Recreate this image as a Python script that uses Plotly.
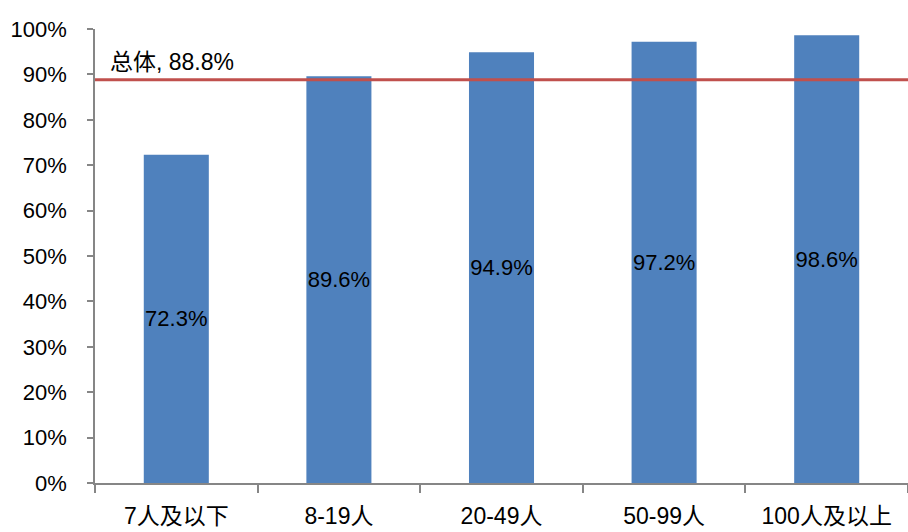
import plotly.graph_objects as go

categories = ["7人及以下", "8-19人", "20-49人", "50-99人", "100人及以上"]
values = [72.3, 89.6, 94.9, 97.2, 98.6]
overall_value = 88.8
overall_label = "总体"
y_ticks = list(range(0, 101, 10))

FONT = "Liberation Sans, Noto Sans CJK SC, sans-serif"

fig = go.Figure()
fig.add_trace(go.Bar(
    x=categories, y=values,
    marker=dict(color="#4F81BD", line=dict(width=0)),
    width=0.4,
    text=[f"{v:.1f}%" for v in values],
    textposition="inside", insidetextanchor="middle",
    textangle=0, constraintext="none",
    textfont=dict(color="#000000", size=22, family=FONT),
    showlegend=False,
))

fig.add_shape(type="line", xref="paper", yref="y", x0=0, x1=1,
              y0=overall_value, y1=overall_value,
              line=dict(color="#C0504D", width=3))
fig.add_annotation(xref="paper", yref="y", x=0.016, y=overall_value,
                   xanchor="left", yanchor="bottom", yshift=3,
                   text=f"{overall_label}, {overall_value}%", showarrow=False,
                   font=dict(size=23, color="#000000", family=FONT))

fig.update_layout(
    width=908, height=532,
    margin=dict(l=95, r=0, t=29, b=49),
    paper_bgcolor="white", plot_bgcolor="white",
    font=dict(family=FONT, size=22, color="#000000"),
    uniformtext=dict(mode=False),
)
fig.update_xaxes(
    type="category", tickson="boundaries",
    showline=True, linecolor="#868686", linewidth=1.5,
    ticks="outside", ticklen=8, tickcolor="#868686", tickwidth=1.5,
    tickfont=dict(size=23, family=FONT, color="#000000"),
    ticklabelstandoff=12,
    showgrid=False, range=[-0.5, 4.5],
)
fig.update_yaxes(
    range=[0, 100], tickvals=y_ticks, ticktext=[f"{t}%" for t in y_ticks],
    showline=True, linecolor="#868686", linewidth=1.5,
    ticks="outside", ticklen=6, tickcolor="#868686", tickwidth=1.5,
    tickfont=dict(size=22, family=FONT, color="#000000"),
    ticklabelstandoff=16,
    showgrid=False, zeroline=False,
)

fig.write_html("out.html")
